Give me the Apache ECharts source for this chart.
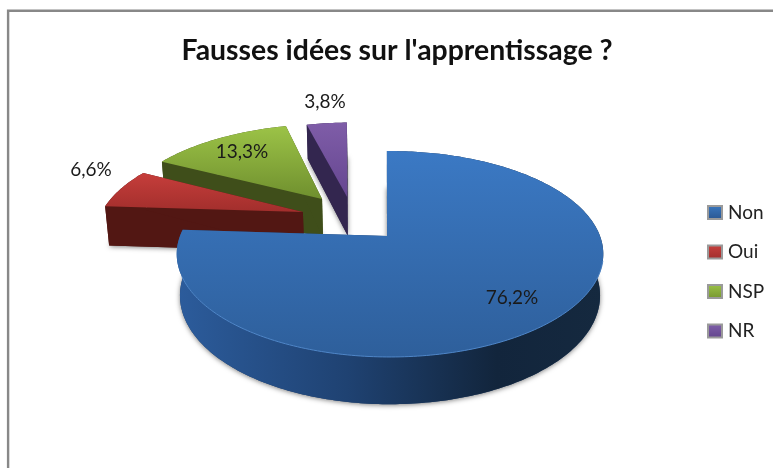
<!DOCTYPE html>
<html><head><meta charset="utf-8">
<style>html,body{margin:0;padding:0;background:#fff}#c{width:773px;height:468px}</style>
<script src="https://cdn.jsdelivr.net/npm/echarts@6/dist/echarts.min.js"></script>
</head><body><div id="c"></div>
<script>
var categories = ['Non', 'Oui', 'NSP', 'NR'];
var values = [76.2, 6.6, 13.3, 3.8];
var labels = ['76,2%', '6,6%', '13,3%', '3,8%'];
var titleText = "Fausses idées sur l'apprentissage ?";

var FONT = 'Lato, "Open Sans", sans-serif';
// projection of the tilted disc
var P = {x0: 390, y0: 236, a: 210, b: 99.8, k: 0.175, c: 41.5, m: 0.015, start: -1};
// explosion of each slice in disc units, apex tweak, label centre, colours
var look = [
  {off: [0, 0], apex: [-0.014, 0], label: [512, 298], z: 5, top: ['#3b79c4', '#2e5f9b'], cut: '#1e3d68', rim: true,
   wall: [[0, '#2c5c9c'], [0.4, '#1f4272'], [0.75, '#12253c'], [1, '#15293f']], legend: ['#3a78c0', '#2a5690']},
  {off: [-0.433, -0.251], apex: [0, 0], label: [91, 170], z: 4, top: ['#c63e3b', '#a22e2c'], cut: '#521713',
   wall: [[0, '#521713'], [1, '#521713']], legend: ['#c8403d', '#a02e2c']},
  {off: [-0.361, -0.397], apex: [0.015, 0], label: [242, 152], z: 3, top: ['#9cc347', '#6f8f2e'], cut: '#3f4e1a',
   wall: [[0, '#3f4e1a'], [1, '#3f4e1a']], legend: ['#9cc347', '#76962f']},
  {off: [-0.239, -0.419], apex: [0.02, 0], label: [325, 102], z: 2, top: ['#7f5da8', '#654690'], cut: '#33264f',
   wall: [[0, '#33264f'], [1, '#33264f']], legend: ['#8060aa', '#62448c']}
];

function project(u, v, z) {
  var w = 1 - P.k * v + P.m * z;
  return [P.x0 + P.a * u / w, P.y0 + (P.b * v + P.c * z) / w];
}
function grad(x0, y0, x1, y1, stops) {
  return new echarts.graphic.LinearGradient(x0, y0, x1, y1, stops.map(function (s) { return {offset: s[0], color: s[1]}; }));
}
function sliceAngles(i) {
  var total = values.reduce(function (s, x) { return s + x; }, 0), acc = 0;
  for (var j = 0; j < i; j++) acc += values[j];
  return [P.start + acc / total * 360, P.start + (acc + values[i]) / total * 360];
}
function arc(i, z) {
  var ang = sliceAngles(i), o = look[i].off, pts = [];
  var n = Math.max(2, Math.ceil(ang[1] - ang[0]));
  for (var s = 0; s <= n; s++) {
    var t = (ang[0] + (ang[1] - ang[0]) * s / n) * Math.PI / 180;
    pts.push(project(o[0] + Math.sin(t), o[1] - Math.cos(t), z));
  }
  return pts;
}
function renderSlice(i) {
  return function (params, api) {
    var L = look[i];
    var ax = L.off[0] + L.apex[0], ay = L.off[1] + L.apex[1];
    var topArc = arc(i, 0), botArc = arc(i, 1);
    var aT = project(ax, ay, 0), aB = project(ax, ay, 1);
    var first = topArc[0], last = topArc[topArc.length - 1];
    var firstB = botArc[0], lastB = botArc[botArc.length - 1];
    var kids = [
      {type: 'polygon', shape: {points: [aB].concat(botArc)},
       style: {fill: L.cut, shadowColor: 'rgba(0,0,0,0.5)', shadowBlur: 5, shadowOffsetY: 1}},
      {type: 'polygon', shape: {points: [aT, first, firstB, aB]}, style: {fill: L.cut}},
      {type: 'polygon', shape: {points: [aT, last, lastB, aB]}, style: {fill: L.cut}},
      {type: 'polygon', shape: {points: topArc.concat(botArc.slice().reverse())},
       style: {fill: grad(0, 0, 1, 0, L.wall)}},
      {type: 'polygon', shape: {points: [aT].concat(topArc)},
       style: {fill: grad(0, 0, 0, 1, [[0, L.top[0]], [1, L.top[1]]])}}
    ];
    if (L.rim) {
      kids.push({type: 'polyline', shape: {points: topArc.slice(105, 250)},
        style: {stroke: '#4f86c8', lineWidth: 1, fill: null}});
    }
    kids.push({type: 'text', style: {text: labels[i], x: L.label[0], y: L.label[1], align: 'center', verticalAlign: 'middle',
      font: '19px ' + FONT, fill: '#1a1a1a'}});
    return {type: 'group', children: kids};
  };
}

var series = categories.map(function (name, i) {
  return {
    type: 'custom', name: name, z: look[i].z, coordinateSystem: 'none', silent: true, animation: false,
    data: [values[i]], renderItem: renderSlice(i),
    itemStyle: {color: grad(0, 0, 0, 1, [[0, look[i].legend[0]], [1, look[i].legend[1]]]), borderColor: '#9a9a9a', borderWidth: 1}
  };
});

var chart = echarts.init(document.getElementById('c'), null, {renderer: 'canvas'});
chart.setOption({
  animation: false,
  backgroundColor: '#ffffff',
  title: {text: titleText, left: 392, top: 32, textAlign: 'center',
    textStyle: {fontFamily: FONT, fontSize: 28.4, fontWeight: 'bold', color: '#111'}},
  legend: {orient: 'vertical', left: 702, top: 198, data: categories, icon: 'rect', itemWidth: 14, itemHeight: 13, itemGap: 20.5,
    textStyle: {fontFamily: FONT, fontSize: 19, lineHeight: 13, color: '#222', padding: [0, 0, 0, 1]}, selectedMode: false},
  graphic: [{type: 'polyline', z: 1, silent: true, shape: {points: [[8.1, 468], [8.1, 10.8], [773, 10.8]]},
    style: {stroke: '#888', lineWidth: 2.4, fill: null}}],
  series: series
});
</script></body></html>
